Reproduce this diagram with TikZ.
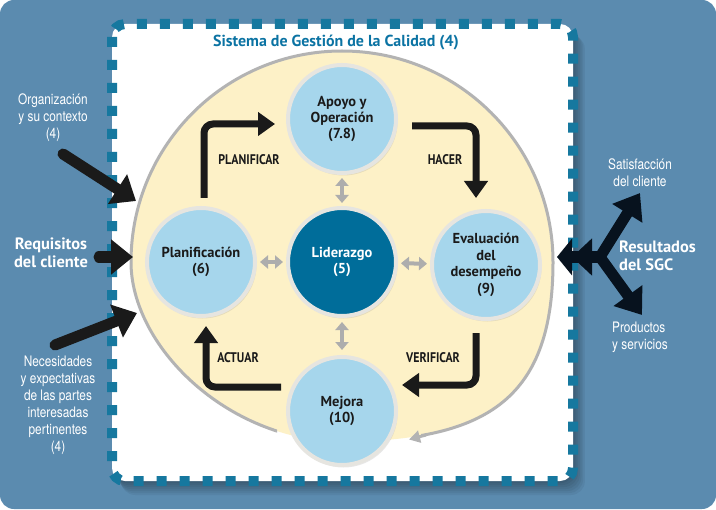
\documentclass[tikz,border=0pt]{standalone}
\usepackage{fontspec}
\setmainfont{PT Sans}
\newfontfamily\condf[FakeStretch=0.82]{TeX Gyre Heros}
\newfontfamily\condb[FakeStretch=0.85]{PT Sans}
\usetikzlibrary{arrows.meta,shadows}
\definecolor{outerblue}{HTML}{5B8BAF}
\definecolor{dashcol}{HTML}{16789F}
\definecolor{titleblue}{HTML}{0B73A3}
\definecolor{discyellow}{HTML}{FDF1C7}
\definecolor{arcgray}{HTML}{B3B3B3}
\definecolor{circblue}{HTML}{A6D6EC}
\definecolor{ringgray}{HTML}{E6E5E0}
\definecolor{lidblue}{HTML}{006D9A}
\definecolor{arrgray}{HTML}{ADADAD}
\definecolor{navy}{HTML}{07121E}
\definecolor{ink}{HTML}{1A1A1A}
\tikzset{
  circ/.style={circle, minimum size=108bp, inner sep=0pt, fill=circblue, draw=ringgray,
    line width=4bp, align=center, text=ink,
    font=\bfseries\fontsize{14.5}{16.5}\selectfont,
    drop shadow={shadow xshift=1.5bp, shadow yshift=-2.5bp, opacity=0.18}},
  gdarr/.style={draw=arrgray, line width=4bp,
    {Triangle[length=8bp,width=13bp]}-{Triangle[length=8bp,width=13bp]},
    shorten >=3bp, shorten <=3bp},
  pdca/.style={draw=ink, line width=7bp, rounded corners=9bp,
    -{Triangle[length=17bp,width=23bp]}},
  pdcalab/.style={inner sep=0pt, text=ink, font=\condb\bfseries\fontsize{14}{16}\selectfont},
  extarr/.style={draw=ink, line width=11bp, line cap=round,
    -{Triangle[length=22bp,width=34bp]}},
  navarr/.style={draw=navy, line width=11bp,
    -{Triangle[length=24bp,width=34bp]}},
  wlab/.style={inner sep=0pt, text=white, align=center,
    font=\condf\fontsize{14.5}{17}\selectfont},
  wbold/.style={inner sep=0pt, text=white, align=center,
    font=\bfseries\fontsize{16.5}{18}\selectfont},
}
\begin{document}
\begin{tikzpicture}[x=1bp,y=-1bp]
\useasboundingbox (0,0) rectangle (716,510);
% outer blue panel
\fill[outerblue, rounded corners=14bp] (0,0) rectangle (716,509);
% shadow of white box
\foreach \i in {1,...,7}
  \fill[black, opacity=0.05, rounded corners=14bp]
    ({112+1.3*\i},{24+1.6*\i}) rectangle ({573+1.7*\i},{481+2*\i});
% white box with dashed border
\fill[white, rounded corners=13bp] (112,24) rectangle (573,481);
\draw[dashcol, line width=10bp, dash pattern=on 10bp off 13bp, rounded corners=13bp]
  (112,24) rectangle (573,481);
% title
\node[inner sep=0pt, text=titleblue, font=\bfseries\fontsize{16}{18}\selectfont]
  (title) at (336,43) {Sistema de Gestión de la Calidad (4)};
% yellow disc
\fill[discyellow] (131,262) .. controls (131,145.5) and (225.5,51) .. (342,51)
  .. controls (458.5,51) and (553,145.5) .. (553,262)
  .. controls (553,405) and (480,440) .. (342,442)
  .. controls (225,440) and (131,345) .. (131,262) -- cycle;
\begin{scope}
\clip (0,0) rectangle (716,420) (0,420) rectangle (277,510) (421,420) rectangle (716,510);
\draw[arcgray, line width=3bp] (131,262) .. controls (131,145.5) and (225.5,51) .. (342,51)
  .. controls (458.5,51) and (553,145.5) .. (553,262)
  .. controls (553,405) and (480,440) .. (342,442)
  .. controls (225,440) and (131,345) .. (131,262) -- cycle;
\end{scope}
\coordinate (ga) at (426,435);
\coordinate (gb) at (409,439.5);
\draw[arcgray, line width=3bp, -{Triangle[length=11bp,width=12bp]}] (ga) -- (gb);
% circles
\node[circ] (apoyo) at (342,119) {Apoyo y\\Operación\\(7.8)};
\node[circ] (plan) at (201,262) {Planificación\\(6)};
\node[circ, fill=lidblue, text=white] (lider) at (342,262) {Liderazgo\\(5)};
\node[circ] (eval) at (486,265) {Evaluación\\del\\desempeño\\(9)};
\node[circ] (mejora) at (342,411) {Mejora\\(10)};
% gray double arrows
\draw[gdarr] (apoyo) -- (lider);
\draw[gdarr] (plan) -- (lider);
\draw[gdarr] (lider) -- (eval);
\draw[gdarr, shorten >=5bp, shorten <=4bp] (lider) -- (mejora);
% PDCA arrows
\coordinate (p1) at (204,198); \coordinate (p2) at (275,124);
\coordinate (h1) at (412,126); \coordinate (h2) at (476,198);
\coordinate (v1) at (476,333); \coordinate (v2) at (402,385);
\coordinate (a1) at (281,387); \coordinate (a2) at (206,326);
\draw[pdca] (p1) |- (p2);
\draw[pdca] (h1) -| (h2);
\draw[pdca] (v1) |- (v2);
\draw[pdca] (a1) -| (a2);
\node[pdcalab] (lplan) at (249,160) {PLANIFICAR};
\node[pdcalab] (lhac) at (445,160) {HACER};
\node[pdcalab] (lver) at (433,358) {VERIFICAR};
\node[pdcalab] (lact) at (238,358) {ACTUAR};
% left inputs
\node[wlab] (org) at (53,118) {Organización\\y su contexto\\(4)};
\node[wbold] (req) at (51,253) {Requisitos\\del cliente};
\node[wlab] (nec) at (58,405) {Necesidades\\y expectativas\\de las partes\\interesadas\\pertinentes\\(4)};
\coordinate (o1) at (63,154); \coordinate (o2) at (136,201);
\coordinate (r1) at (99,257); \coordinate (r2) at (133,257);
\coordinate (n1) at (55,345); \coordinate (n2) at (137,313);
\draw[extarr] (o1) -- (o2);
\draw[extarr] (r1) -- (r2);
\draw[extarr] (n1) -- (n2);
% right outputs
\coordinate (rj) at (600,257);
\coordinate (rl) at (557,257);
\coordinate (ru) at (640,193);
\coordinate (rd) at (642,315);
\draw[navarr] (rj) -- (ru);
\draw[navarr] (rj) -- (rd);
\draw[draw=navy, line width=11bp, -{Triangle[length=20bp,width=36bp] Triangle[length=15bp,width=36bp]}] (rj) -- (rl);
\node[wlab] (sat) at (640,173) {Satisfacción\\del cliente};
\node[wbold, anchor=west, align=left] (res) at (619,256) {Resultados\\del SGC};
\node[wlab, anchor=west, align=left] (prod) at (612,337) {Productos\\y servicios};
\end{tikzpicture}
\end{document}
